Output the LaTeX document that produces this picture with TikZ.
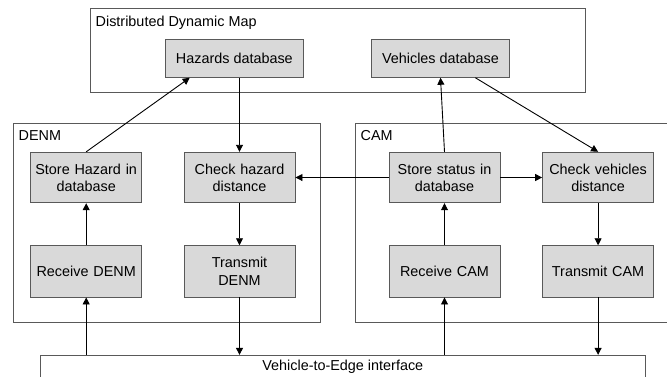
\documentclass[tikz,border=0pt]{standalone}
\usepackage{fontspec}
\setmainfont{Liberation Sans}
\usetikzlibrary{arrows.meta,calc}
\begin{document}
\begin{tikzpicture}[x=1pt,y=-1pt,
  font=\fontsize{14.4}{17.3}\selectfont,
  container/.style={draw=black!65,line width=0.9pt,fill=white,inner sep=0pt},
  block/.style={draw=black!65,line width=0.9pt,fill=black!15,inner sep=0pt,
    text width=108pt,align=center,minimum width=111pt,minimum height=50.5pt},
  dbbox/.style={draw=black!65,line width=0.9pt,fill=black!15,inner sep=0pt,
    minimum width=138.5pt,minimum height=38pt},
  conn/.style={draw=black,line width=0.9pt,-{Triangle[length=7pt,width=7pt]}},
  lbl/.style={anchor=west,inner sep=0pt}]
\useasboundingbox (0,0) rectangle (667,376);
% containers
\node[container,minimum width=495.3pt,minimum height=83.7pt] (ddm) at (337.65,50.15) {};
\node[container,minimum width=307.2pt,minimum height=199pt] (denm) at (166.9,222.8) {};
\node[container,minimum width=330pt,minimum height=199pt] (cam) at (520.3,222.8) {};
\node[container,minimum width=604.3pt,minimum height=50pt] (v2e) at (342.85,380.3) {};
\node[lbl] (ddmlbl) at (95.5,22.7) {Distributed Dynamic Map};
\node[lbl] (denmlbl) at (18.5,136) {DENM};
\node[lbl] (camlbl) at (360.5,136) {CAM};
\node[inner sep=0pt] (v2elbl) at (342.8,366.7) {Vehicle-to-Edge interface};
% databases
\node[dbbox] (hz) at (234.35,58.3) {Hazards database};
\node[dbbox] (vh) at (440.5,58.3) {Vehicles database};
% blocks
\node[block] (sh) at (86.2,177.5) {Store Hazard in\\database};
\node[block] (ch) at (239.5,177.5) {Check hazard\\distance};
\node[block,minimum height=51.3pt] (rd) at (86.2,271.35) {Receive DENM};
\node[block,minimum height=51.3pt] (td) at (239.5,271.35) {Transmit\\DENM};
\node[block] (ss) at (444.5,177.5) {Store status in\\database};
\node[block] (cv) at (598.1,177.5) {Check vehicles\\distance};
\node[block,minimum height=51.3pt] (rc) at (444.5,271.35) {Receive CAM};
\node[block,minimum height=51.3pt] (tc) at (598.1,271.35) {Transmit CAM};
% connectors
\draw[conn] (sh.north) -- ($(hz.south west)!0.18!(hz.south east)$);
\draw[conn] (ch.north |- hz.south) -- (ch.north);
\draw[conn] (ch.south) -- (td.north);
\draw[conn] (ss.west) -- (ch.east);
\draw[conn] (ss.north) -- (vh.south);
\draw[conn] ($(vh.south west)!0.75!(vh.south east)$) -- (cv.north);
\draw[conn] (ss.east) -- (cv.west);
\draw[conn] (cv.south) -- (tc.north);
\draw[conn] (rc.north) -- (ss.south);
\draw[conn] (rd.north) -- (sh.south);
\draw[conn] (rd.south |- v2e.north) -- (rd.south);
\draw[conn] (td.south) -- (td.south |- v2e.north);
\draw[conn] (rc.south |- v2e.north) -- (rc.south);
\draw[conn] (tc.south) -- (tc.south |- v2e.north);
\end{tikzpicture}
\end{document}
